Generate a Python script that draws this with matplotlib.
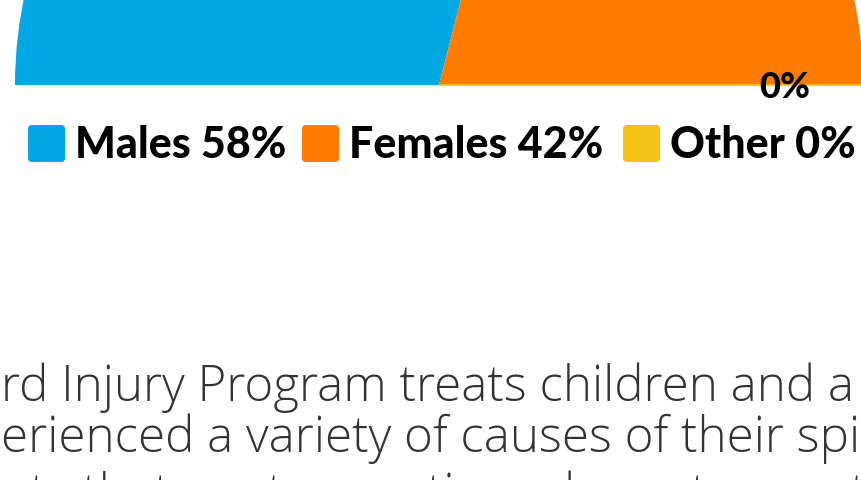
import matplotlib.pyplot as plt
from matplotlib.patches import FancyBboxPatch
import numpy as np

# --- data ---
categories = ["Males", "Females", "Other"]
shares = [58, 42, 0]
colors = ["#00A8E3", "#FF7C00", "#F4C315"]
legend_labels = ["Males 58%", "Females 42%", "Other 0%"]

body_lines = [
    "rd Injury Program treats children and a",
    "erienced a variety of causes of their spi",
    "nts that are traumatic and non-traumatic in nature",
]
line_baselines = [401, 452, 509]

W, H = 861, 481
fig = plt.figure(figsize=(W / 100, H / 100), dpi=100)
ax = fig.add_axes([0, 0, 1, 1])

# semicircle pie: the data fill the top half, an invisible wedge fills the rest
cx, cy, R = 439, H - 86, 424
vals = shares + [sum(shares)]
wedges, _ = ax.pie(vals, colors=colors + ["none"], startangle=180,
                   counterclock=False, radius=R, center=(cx, cy), frame=True)
ax.set_xlim(0, W)
ax.set_ylim(0, H)
ax.set_aspect("equal")
ax.axis("off")
wedges[2].set_edgecolor(colors[2])
wedges[2].set_linewidth(1.2)

# label for the "Other" slice (0%)
start = 180 - 180 * sum(shares[:2]) / sum(shares)
theta = np.deg2rad(start - 180 * shares[2] / sum(shares) / 2)
ax.text(cx + 0.816 * R * np.cos(theta), cy + 0.816 * R * np.sin(theta) - 1,
        f"{shares[2]}%", ha="center", va="center", fontsize=26,
        fontweight="black", family="Lato", color="black")

# legend
box_x = [28, 302, 623]
for x0, lab, col in zip(box_x, legend_labels, colors):
    ax.add_patch(FancyBboxPatch((x0 + 4, H - 163 + 4), 29, 29,
                                boxstyle="round,pad=4", fc=col, ec="none"))
    ax.text(x0 + 47, H - 145, lab, ha="left", va="center", fontsize=31,
            fontweight="black", family="Lato", color="black")

# body text (cropped paragraph)
for line, yb in zip(body_lines, line_baselines):
    ax.text(1, H - yb, line, ha="left", va="baseline",
            fontsize=35.5, fontweight="light", family="Open Sans",
            color="#333333")

fig.savefig("out.png", dpi=100)
